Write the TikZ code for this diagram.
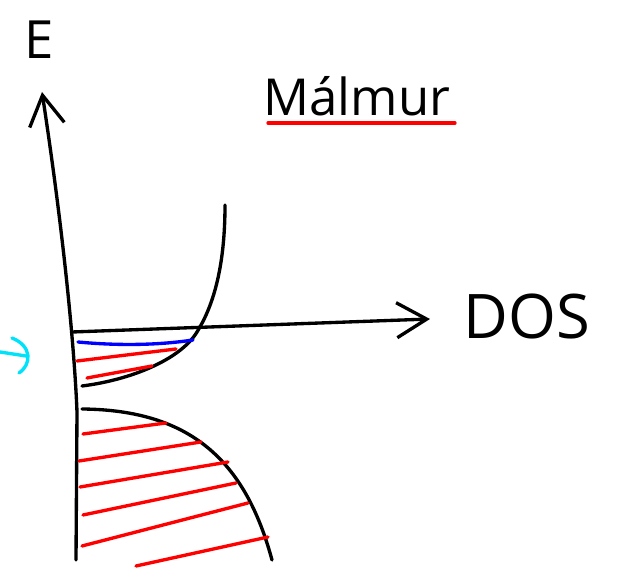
\documentclass[tikz,border=0pt]{standalone}
\usepackage{fontspec}
\setmainfont{Open Sans}
\usetikzlibrary{arrows.meta}

\definecolor{fillred}{RGB}{255,0,0}
\definecolor{fermiblue}{RGB}{0,0,255}
\definecolor{markcyan}{RGB}{0,225,250}

\begin{document}
\begin{tikzpicture}[
  x=0.02cm, y=-0.02cm,
  pen/.style={line width=1.9pt, line cap=round, line join=round},
  axis/.style={pen, -{Straight Barb[length=6mm, width=7mm, line width=1.9pt]}},
  hatch/.style={pen, draw=fillred},
  lbl/.style={inner sep=0pt, font=\fontsize{#1}{#1}\selectfont}
]
\useasboundingbox (0,0) rectangle (619,573);

% labels
\node[lbl=30pt] (elabel) at (39,40) {E};
\node[lbl=29pt, anchor=base] (metal) at (357,116) {Málmur};
\node[lbl=35pt] (dos) at (527,317) {DOS};
\draw[pen, draw=fillred] (268,123) -- (455,123);

% axes
\coordinate (ebottom) at (76,560);
\coordinate (etop) at (42,92);
\coordinate (dstart) at (72,332);
\coordinate (dend) at (430,319);
\draw[axis] (ebottom) -- (77,412) .. controls (75,360) and (66,250) .. (etop);
\draw[axis] (dstart) -- (dend);

% bands
\coordinate (cbtop) at (225,205);
\coordinate (cbcross) at (197,332);
\coordinate (cbend) at (82,386);
\draw[pen] (cbtop) .. controls (225,270) and (212,308) .. (cbcross)
  .. controls (180,360) and (130,380) .. (cbend);
\coordinate (vbtop) at (82,409);
\coordinate (vbend) at (272,560);
\draw[pen] (vbtop) .. controls (190,410) and (245,460) .. (vbend);

% filled states
\draw[pen, draw=fermiblue] (78,342) .. controls (120,346) and (160,345) .. (193,340);
\foreach \xa/\ya/\xb/\yb in {77/361/176/349, 87/378/152/366,
    83/434/166/423, 79/461/201/442, 80/487/228/462,
    83/515/236/483, 82/546/248/503, 136/566/268/537}
  \draw[hatch] (\xa,\ya) -- (\xb,\yb);

% fermi level mark
\draw[pen, draw=markcyan] (0,352) -- (26,356);
\draw[pen, draw=markcyan] (12,338) .. controls (32,346) and (32,364) .. (19,373);
\end{tikzpicture}
\end{document}
